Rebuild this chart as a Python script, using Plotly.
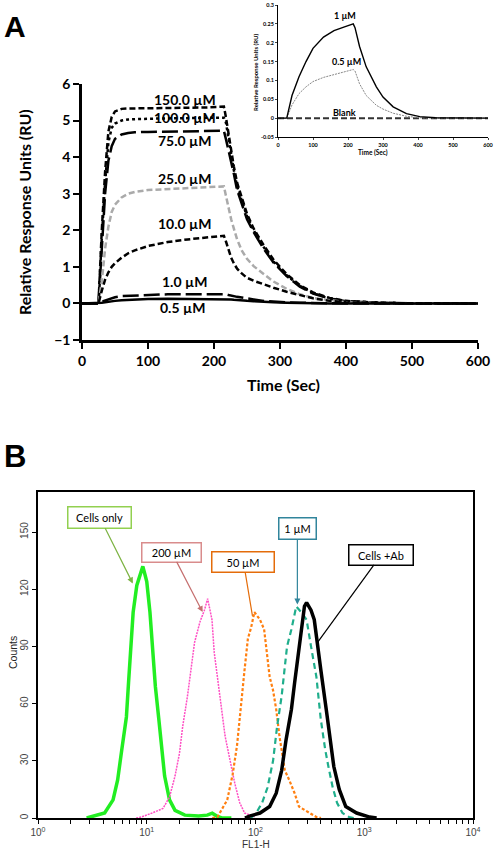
import plotly.graph_objects as go

# ---------------- Panel A data (SPR sensorgrams) ----------------
time_s = [0, 25, 30, 35, 40, 45, 50, 60, 70, 80, 100, 130, 160, 190, 215, 218, 222, 226, 230, 235,
          242, 250, 260, 275, 290, 310, 330, 350, 375, 400, 450, 500, 600]
ru_150 = [0, 0, 2.0, 3.6, 4.7, 5.1, 5.25, 5.32, 5.33, 5.33, 5.34, 5.35, 5.35, 5.36, 5.38,
          5.1, 4.6, 4.2, 3.75, 3.3, 2.9, 2.45, 2.05, 1.6, 1.2, 0.8, 0.5, 0.3, 0.15, 0.07, 0.02, 0, 0]
ru_100 = [0, 0, 1.8, 3.3, 4.4, 4.8, 4.92, 5.0, 5.03, 5.04, 5.05, 5.06, 5.06, 5.07, 5.08,
          4.95, 4.5, 4.1, 3.65, 3.2, 2.8, 2.38, 2.0, 1.55, 1.15, 0.77, 0.48, 0.28, 0.14, 0.06, 0.02, 0, 0]
ru_75 = [0, 0, 1.5, 3.0, 3.9, 4.3, 4.5, 4.62, 4.66, 4.68, 4.69, 4.7, 4.71, 4.71, 4.72,
         4.5, 4.2, 3.9, 3.55, 3.1, 2.72, 2.3, 1.95, 1.5, 1.12, 0.75, 0.46, 0.27, 0.13, 0.06, 0.02, 0, 0]
ru_25 = [0, 0, 0.6, 1.5, 2.1, 2.5, 2.7, 2.9, 3.0, 3.05, 3.1, 3.13, 3.15, 3.17, 3.2,
         2.95, 2.6, 2.3, 2.05, 1.75, 1.45, 1.22, 1.02, 0.8, 0.6, 0.4, 0.25, 0.15, 0.08, 0.03, 0.01, 0, 0]
ru_10 = [0, 0, 0.35, 0.65, 0.85, 1.0, 1.1, 1.25, 1.37, 1.45, 1.57, 1.68, 1.75, 1.8, 1.85,
         1.7, 1.45, 1.25, 1.1, 0.95, 0.82, 0.7, 0.62, 0.52, 0.43, 0.32, 0.22, 0.14, 0.07, 0.03, 0.01, 0, 0]
ru_1 = [0, 0, 0.05, 0.08, 0.12, 0.15, 0.17, 0.2, 0.21, 0.22, 0.24, 0.25, 0.25, 0.26, 0.26,
        0.25, 0.23, 0.21, 0.2, 0.18, 0.16, 0.13, 0.11, 0.07, 0.05, 0.03, 0.02, 0.01, 0.005, 0, 0, 0, 0]
ru_05 = [0, 0, 0.02, 0.03, 0.05, 0.06, 0.07, 0.09, 0.1, 0.11, 0.12, 0.13, 0.13, 0.13, 0.13,
         0.125, 0.12, 0.11, 0.1, 0.09, 0.08, 0.07, 0.06, 0.04, 0.03, 0.02, 0.01, 0.005, 0, 0, 0, 0, 0]
main_labels = ["150.0 µM", "100.0 µM", "75.0 µM", "25.0 µM", "10.0 µM", "1.0 µM", "0.5 µM"]
main_label_t = [156, 156, 156, 156, 156, 156, 153]
main_label_v = [5.57, 5.08, 4.45, 3.42, 2.19, 0.6, -0.11]

# inset
inset_t = [0, 25, 40, 60, 80, 100, 130, 160, 190, 215, 220, 233, 252, 281, 300, 329, 367, 405, 450, 500, 600]
inset_1 = [0, 0, 0.06, 0.11, 0.15, 0.185, 0.215, 0.232, 0.242, 0.25, 0.24, 0.19, 0.136, 0.083, 0.056,
           0.03, 0.012, 0.004, 0.001, 0, 0]
inset_05 = [0, 0, 0.035, 0.065, 0.083, 0.097, 0.108, 0.116, 0.123, 0.129, 0.125, 0.091, 0.06, 0.034,
            0.024, 0.013, 0.005, 0.001, 0, 0, 0]
inset_blank = [0] * len(inset_t)
inset_labels = ["1 µM", "0.5 µM", "Blank"]
inset_label_t = [191, 197, 191]
inset_label_v = [0.273, 0.149, 0.016]

# ---------------- Panel B data (flow cytometry histograms) ----------------
green_x = [2.8, 3.0, 4.1, 4.9, 5.4, 5.9, 6.5, 6.8, 7.1, 7.5, 8.1, 8.7, 9.2, 9.6, 10.0, 10.7, 11.4, 12.0,
           12.9, 13.8, 14.6, 16.2, 18.2, 22.4, 30, 36, 40, 44, 49, 60]
green_y = [0, 0.5, 2.6, 9.5, 20, 36, 53, 71, 87, 108, 122, 128, 132, 128, 124, 108, 87, 69,
           52, 36, 22, 9.5, 4, 1.5, 1, 1.5, 2.5, 1, 0, 0]
pink_x = [8.0, 8.9, 11.2, 14.1, 16.2, 18.2, 20, 21.4, 23.7, 25.7, 27.5, 30.9, 33.9, 36.3, 39.8, 41.7,
          44.7, 49, 52.5, 57.5, 64.6, 71.6, 79.4, 100]
pink_y = [0, 0.5, 2.6, 5, 11, 22, 34, 48, 64, 78, 92, 103, 109, 115, 104, 87,
          73, 57, 43, 32, 18, 8, 2.6, 0.5]
orange_x = [40, 44.7, 55, 61.7, 67.6, 74.1, 79.4, 85.1, 91.2, 97.7, 104, 110, 120, 129, 135, 145, 155,
            166, 186, 204, 229, 251, 316, 363, 400]
orange_y = [0, 0.5, 9.5, 23, 38, 62, 78, 94, 100, 108, 106, 104, 99, 85, 74, 67, 57,
            43, 25, 20, 13, 6, 2.6, 0.5, 0]
teal_x = [90, 100, 115, 129, 145, 158, 174, 186, 195, 214, 237, 263, 295, 324, 363, 398, 437, 468,
          513, 562, 631, 724, 800]
teal_y = [0, 2, 8, 16, 30, 48, 64, 80, 90, 99, 111, 108, 104, 90, 74, 52, 36, 27,
          16, 8, 2.6, 0.5, 0]
black_x = [80, 88, 110, 135, 155, 174, 191, 214, 229, 245, 263, 282, 295, 324, 347, 372, 398, 447,
           479, 525, 589, 676, 851, 1122, 1300]
black_y = [0, 1, 2.6, 6, 13, 25, 41, 57, 71, 85, 97, 111, 113, 109, 104, 92, 78, 57,
           43, 27, 15, 6, 2.6, 0.5, 0]
count_ticks = [0, 30, 60, 90, 120, 150]

W, H = 495, 850
def px(x):
    return x / W
def py(y):
    return 1 - y / H

fig = go.Figure()

# Panel A main traces
main_series = [
    (ru_150, dict(color="black", width=2.5, dash="6px,3px")),
    (ru_100, dict(color="black", width=2.5, dash="dot")),
    (ru_75, dict(color="black", width=2.5, dash="16px,5px")),
    (ru_25, dict(color="#aaaaaa", width=2.5, dash="6px,3px")),
    (ru_10, dict(color="black", width=2.5, dash="6px,3px")),
    (ru_1, dict(color="black", width=2.5, dash="16px,5px")),
    (ru_05, dict(color="black", width=2.5)),
]
for vals, ln in main_series:
    fig.add_trace(go.Scatter(x=time_s, y=vals, mode="lines", line=ln, xaxis="x", yaxis="y",
                             showlegend=False, hoverinfo="skip"))

# Inset traces
fig.add_trace(go.Scatter(x=inset_t, y=inset_blank, mode="lines",
                         line=dict(color="#333333", width=2, dash="6px,3px"),
                         xaxis="x2", yaxis="y2", showlegend=False, hoverinfo="skip"))
fig.add_trace(go.Scatter(x=inset_t, y=inset_05, mode="lines",
                         line=dict(color="#888888", width=1, dash="2px,1px"),
                         xaxis="x2", yaxis="y2", showlegend=False, hoverinfo="skip"))
fig.add_trace(go.Scatter(x=inset_t, y=inset_1, mode="lines",
                         line=dict(color="black", width=1.4),
                         xaxis="x2", yaxis="y2", showlegend=False, hoverinfo="skip"))

# Panel B traces
hist_series = [
    (green_x, green_y, dict(color="#22ee22", width=3.5)),
    (pink_x, pink_y, dict(color="#ff4fc4", width=1.5, dash="2px,1px")),
    (orange_x, orange_y, dict(color="#ff7f10", width=2.2, dash="3px,2px")),
    (teal_x, teal_y, dict(color="#1fae8c", width=2.2, dash="6px,4px")),
    (black_x, black_y, dict(color="black", width=3.5)),
]
for xs, ys, ln in hist_series:
    fig.add_trace(go.Scatter(x=xs, y=ys, mode="lines", line=ln, xaxis="x3", yaxis="y3",
                             showlegend=False, hoverinfo="skip"))

boldA = dict(family="Lato", size=14, color="black", weight="bold")

annotations = []
def paper_text(x, y, text, font, angle=0, xa="center", ya="middle"):
    annotations.append(dict(x=px(x), y=py(y), xref="paper", yref="paper", xanchor=xa, yanchor=ya,
                            text=text, textangle=angle, showarrow=False, font=font))

# Panel letters
paper_text(2, 8, "A", dict(family="Liberation Sans", size=30, color="black", weight="bold"), xa="left", ya="top")
paper_text(2, 437, "B", dict(family="Liberation Sans", size=31, color="black", weight="bold"), xa="left", ya="top")
# Main A labels
for txt, t, v in zip(main_labels, main_label_t, main_label_v):
    annotations.append(dict(x=t, y=v, xref="x", yref="y", text=txt, showarrow=False, font=boldA,
                            xanchor="center", yanchor="middle"))
paper_text(25, 212, "Relative Response Units (RU)", dict(family="Lato", size=16, color="black", weight="bold"), -90)
paper_text(283, 385, "Time (Sec)", dict(family="Lato", size=16, color="black", weight="bold"))
# Inset labels
for txt, t, v in zip(inset_labels, inset_label_t, inset_label_v):
    annotations.append(dict(x=t, y=v, xref="x2", yref="y2", text=txt, showarrow=False,
                            xanchor="center", yanchor="middle",
                            font=dict(family="Lato", size=9, color="black", weight="bold")))
paper_text(373, 153, "Time (Sec)", dict(family="Lato", size=6.5, color="black", weight="bold"))
paper_text(255, 72, "Relative Response Units (RU)", dict(family="Lato", size=6, color="black", weight="bold"), -90)
# Panel B axis titles
paper_text(13, 653, "Counts", dict(family="Liberation Sans", size=10.5, color="#222"), -90)
paper_text(256, 844, "FL1-H", dict(family="Liberation Sans", size=10, color="#333"))

# Panel B callout boxes
boxfont = dict(family="Lato", size=11, color="black")
callouts = [
    ("Cells only", 0.872, 123, -33, -66, "#92d050", "#7cb342", 2, 58, 16),
    ("200 µM", 1.514, 108, -31, -60, "#d98c8c", "#c56f6f", 2, 54, 14),
    ("50 µM", 1.972, 106, -9, -54, "#e46c0a", "#e46c0a", 0, 57, 15),
    ("1 µM", 2.385, 112, 0, -76, "#31859c", "#31859c", 2, 32, 16),
    ("Cells +Ab", 2.569, 92, 64, -88, "black", "black", 0, 59, 15),
]
for txt, lx, cy, ax, ay, bc, ac, head, w, h in callouts:
    annotations.append(dict(x=lx, y=cy, xref="x3", yref="y3", text=txt, showarrow=True,
                            ax=ax, ay=ay, arrowcolor=ac, arrowhead=head, arrowsize=1, arrowwidth=1.2,
                            bordercolor=bc, borderwidth=1.5, borderpad=2, bgcolor="white",
                            width=w, height=h, font=boxfont))

log_ticks = []
log_text = []
for d in range(4):
    for m in range(1, 10):
        log_ticks.append(m * 10 ** d)
        log_text.append(f"10<sup>{d}</sup>" if m == 1 else "")
log_ticks.append(10000)
log_text.append("10<sup>4</sup>")

fig.update_layout(
    width=W, height=H, margin=dict(l=0, r=0, t=0, b=0, autoexpand=False),
    paper_bgcolor="white", plot_bgcolor="white",
    showlegend=False,
    annotations=annotations,
    xaxis=dict(domain=[px(82), px(478)], range=[0, 600], anchor="y", tickvals=[0, 100, 200, 300, 400, 500, 600],
               showline=True, linecolor="black", linewidth=2.5, ticks="outside", ticklen=6, tickwidth=2,
               tickcolor="black", showgrid=False, zeroline=False, tickfont=boldA, automargin=False),
    yaxis=dict(domain=[py(340), py(84)], range=[-1, 6], anchor="x", tickvals=[-1, 0, 1, 2, 3, 4, 5, 6],
               showline=True, linecolor="black", linewidth=2.5, ticks="outside", ticklen=6, tickwidth=2,
               tickcolor="black", showgrid=False, zeroline=False, tickfont=boldA, automargin=False),
    xaxis2=dict(domain=[px(278), px(488)], range=[0, 600], anchor="y2", tickvals=[0, 100, 200, 300, 400, 500, 600],
                showline=True, linecolor="black", linewidth=1, ticks="outside", ticklen=2, tickwidth=1,
                showgrid=False, zeroline=False, automargin=False,
                tickfont=dict(family="Lato", size=5.5, color="black", weight="bold")),
    yaxis2=dict(domain=[py(137), py(5)], range=[-0.05, 0.3], anchor="x2",
                tickvals=[-0.05, 0, 0.05, 0.1, 0.15, 0.2, 0.25, 0.3],
                ticktext=["-0.05", "0", "0.05", "0.1", "0.15", "0.2", "0.25", "0.3"],
                showline=True, linecolor="black", linewidth=1, ticks="outside", ticklen=2, tickwidth=1,
                showgrid=False, zeroline=False, automargin=False,
                tickfont=dict(family="Lato", size=5.5, color="black", weight="bold")),
    xaxis3=dict(domain=[px(38), px(473)], type="log", range=[0, 4], anchor="y3",
                tickvals=log_ticks, ticktext=log_text,
                showline=True, mirror=True, linecolor="black", linewidth=1.8, ticks="outside", ticklen=4,
                tickwidth=1, tickcolor="black", showgrid=False, zeroline=False, automargin=False,
                tickfont=dict(family="Liberation Sans", size=10, color="#444")),
    yaxis3=dict(domain=[py(818), py(492)], range=[0, 171], anchor="x3", tickvals=count_ticks,
                showline=True, mirror=True, linecolor="black", linewidth=1.8, ticks="outside", ticklen=4,
                tickwidth=1, tickcolor="black", showgrid=False, zeroline=False, tickangle=-90, automargin=False,
                tickfont=dict(family="Liberation Sans", size=10, color="#444")),
)

fig.write_html("out.html", config={"displayModeBar": False},
               post_script="document.body.style.margin='0px';document.body.style.overflow='hidden';")
